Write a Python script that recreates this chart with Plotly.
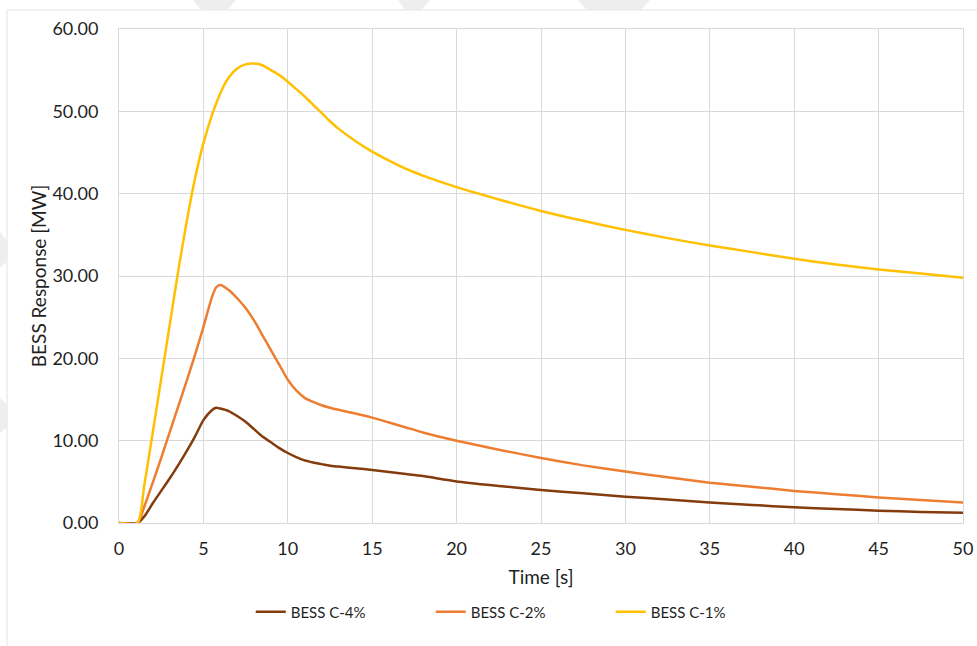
import plotly.graph_objects as go

# Time axis [s]
time_s = [0, 1.1, 1.5, 2, 2.5, 3, 3.5, 4, 4.5, 5, 5.5, 5.75, 6, 6.5, 7, 7.5, 8, 8.5, 9, 9.5,
          10, 10.5, 11, 11.5, 12, 12.5, 13, 14, 15, 16, 17, 18, 20, 22.5, 25, 27.5,
          30, 32.5, 35, 37.5, 40, 42.5, 45, 47.5, 50]

# BESS response [MW]
bess_c4 = [0, 0, 0.8, 2.4, 3.9, 5.4, 7.0, 8.7, 10.5, 12.5, 13.7, 14.0, 13.9, 13.6, 13.0, 12.3,
           11.4, 10.5, 9.8, 9.1, 8.5, 8.0, 7.6, 7.35, 7.15, 6.95, 6.85, 6.65, 6.45, 6.2,
           5.95, 5.7, 5.05, 4.5, 4.0, 3.6, 3.2, 2.85, 2.5, 2.2, 1.9, 1.7, 1.5, 1.35, 1.25]
bess_c2 = [0, 0, 2.0, 4.9, 7.9, 11.0, 14.1, 17.2, 20.4, 23.8, 27.4, 28.6, 28.9, 28.3, 27.3,
           26.1, 24.6, 22.8, 21.0, 19.2, 17.4, 16.1, 15.2, 14.7, 14.3, 14.0, 13.75, 13.3,
           12.8, 12.2, 11.6, 11.0, 10.0, 8.9, 7.9, 7.0, 6.25, 5.55, 4.9, 4.4, 3.9, 3.5,
           3.1, 2.8, 2.5]
bess_c1 = [0, 0, 4.6, 11.0, 17.5, 24.0, 30.5, 36.5, 41.8, 46.1, 49.5, 50.9, 52.2, 54.1, 55.2,
           55.7, 55.8, 55.6, 55.0, 54.4, 53.6, 52.7, 51.8, 50.8, 49.8, 48.8, 47.9, 46.4,
           45.1, 44.0, 43.0, 42.2, 40.8, 39.3, 37.9, 36.7, 35.6, 34.6, 33.7, 32.9, 32.1,
           31.4, 30.8, 30.3, 29.8]

series = [
    ("BESS C-4%", bess_c4, "#843C0C"),
    ("BESS C-2%", bess_c2, "#ED7D31"),
    ("BESS C-1%", bess_c1, "#FFC000"),
]

FONT = "Lato"
TEXT = "#1F1F1F"
GRID = "#D9D9D9"

fig = go.Figure()
for name, vals, color in series:
    fig.add_trace(go.Scatter(
        x=time_s, y=vals, name=name, mode="lines",
        line=dict(color=color, width=2.5, shape="spline", smoothing=0.6),
    ))

# plot-area geometry in pixels (used for decorative shapes outside the axes)
L, R, T, B = 119, 963, 29, 523


def px(xp):
    return (xp - L) / (R - L)


def py(yp):
    return (B - yp) / (B - T)


shapes = []
# outer chart frame
shapes.append(dict(type="line", xref="paper", yref="paper", x0=px(7), x1=px(980),
                   y0=py(10), y1=py(10), line=dict(color="#E3E3E3", width=1)))
shapes.append(dict(type="line", xref="paper", yref="paper", x0=px(7), x1=px(7),
                   y0=py(10), y1=py(650), line=dict(color="#E3E3E3", width=1)))


# faint background stripes
def poly(pts):
    d = "M " + " L ".join(f"{px(a)},{py(b)}" for a, b in pts) + " Z"
    return dict(type="path", xref="paper", yref="paper", path=d,
                fillcolor="#EEEEEE", line=dict(width=0), layer="below")


shapes.append(poly([(193, 0), (236, 0), (228, 9.5), (201, 9.5)]))
shapes.append(poly([(398, 0), (430, 0), (422, 9.5), (405, 9.5)]))
shapes.append(poly([(578, 0), (650, 0), (641, 9.5), (586, 9.5)]))
shapes.append(poly([(0, 232), (6.5, 240), (6.5, 262), (0, 268)]))
shapes.append(poly([(0, 398), (6.5, 404), (6.5, 428), (0, 433)]))

fig.update_layout(
    width=977, height=646,
    margin=dict(l=L, r=977 - R, t=T, b=646 - B, autoexpand=False),
    paper_bgcolor="white", plot_bgcolor="white",
    font=dict(family=FONT, size=18, color=TEXT),
    shapes=shapes,
    showlegend=True,
    legend=dict(orientation="h", x=0.476, xanchor="center", y=-0.18, yanchor="middle",
                font=dict(family=FONT, size=15, color=TEXT),
                entrywidth=135, itemwidth=30, bgcolor="rgba(0,0,0,0)"),
    xaxis=dict(range=[0, 50], dtick=5, tick0=0, showgrid=True, gridcolor=GRID, gridwidth=1,
               showline=True, linecolor=GRID, linewidth=1, mirror=True, zeroline=False,
               ticks="", ticklabelstandoff=9, automargin=False,
               tickfont=dict(family=FONT, size=18, color=TEXT),
               title=dict(text="Time [s]", standoff=13,
                          font=dict(family=FONT, size=19, color=TEXT))),
    yaxis=dict(range=[0, 60], dtick=10, tick0=0, tickformat=".2f", showgrid=True,
               gridcolor=GRID, gridwidth=1, showline=True, linecolor=GRID, linewidth=1,
               mirror=True, zeroline=False, ticks="", ticklabelstandoff=16, automargin=False,
               tickfont=dict(family=FONT, size=18, color=TEXT),
               title=dict(text="BESS Response [MW]", standoff=0,
                          font=dict(family=FONT, size=19, color=TEXT))),
)

fig.write_html("out.html")
